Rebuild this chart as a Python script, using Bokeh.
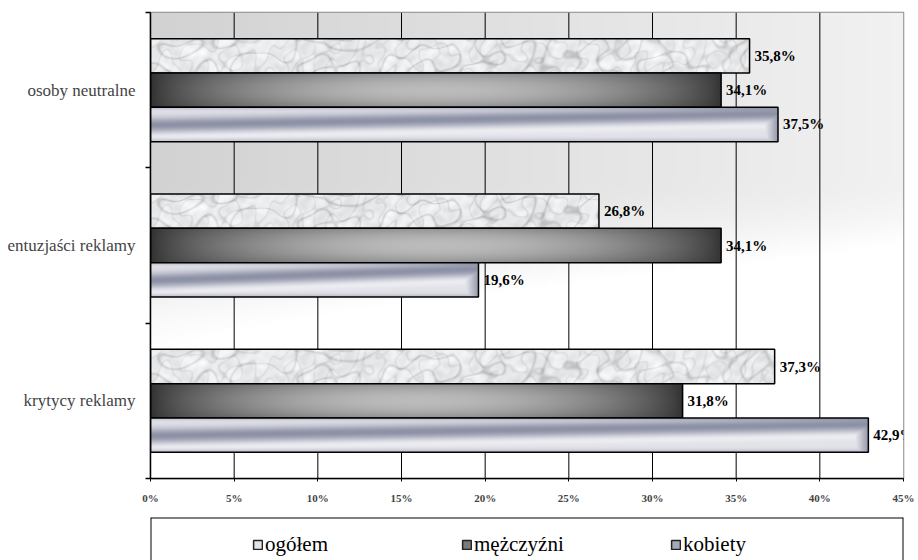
import numpy as np
from bokeh.plotting import figure
from bokeh.models import (ColumnDataSource, FixedTicker, LabelSet, Range1d, Span,
                          Legend, LegendItem)
from bokeh.layouts import column
from bokeh.transform import dodge
from bokeh.core.properties import value
from bokeh.embed import file_html
from bokeh.resources import INLINE

# ---------------- data ----------------
categories = ["krytycy reklamy", "entuzjaści reklamy", "osoby neutralne"]  # bottom -> top
series = ["ogółem", "mężczyźni", "kobiety"]
ogolem = [37.3, 26.8, 35.8]
mezczyzni = [31.8, 34.1, 34.1]
kobiety = [42.9, 19.6, 37.5]
x_ticks = [0, 5, 10, 15, 20, 25, 30, 35, 40, 45]
x_tick_labels = ["0%", "5%", "10%", "15%", "20%", "25%", "30%", "35%", "40%", "45%"]

# ---------------- layout constants ----------------
FIG_W, FIG_H = 918, 515
BL, BR, BT, BB = 150, 15, 12, 37
FRAME_W = FIG_W - BL - BR
FRAME_H = FIG_H - BT - BB
XMAX = 45
BAR_H = 0.221
PX_PER_UNIT = FRAME_W / XMAX
BAR_PX = int(round(BAR_H * FRAME_H / 3))
SERIF = "Liberation Serif"


def pack(r, g, b):
    img = np.empty(r.shape + (4,), dtype=np.uint8)
    img[..., 0] = np.clip(r, 0, 255)
    img[..., 1] = np.clip(g, 0, 255)
    img[..., 2] = np.clip(b, 0, 255)
    img[..., 3] = 255
    # rows: index 0 must be the bottom of the image
    return np.flipud(img).copy().view(np.uint32).reshape(r.shape)


def grid_xy(W, H):
    X, Y = np.meshgrid(np.arange(W, dtype=float), np.arange(H, dtype=float))
    return X, Y


def smooth_noise(X, Y):
    # deterministic pseudo-noise built from incommensurate waves
    dirs = [(0.061, 0.173, 0.0), (0.113, -0.097, 1.3), (0.029, 0.251, 2.1),
            (0.151, 0.061, 0.7), (-0.083, 0.139, 4.2), (0.047, -0.211, 5.1),
            (0.197, 0.113, 3.3), (0.017, 0.071, 0.4)]
    n = np.zeros_like(X)
    for k, (a, b, ph) in enumerate(dirs):
        n += np.sin(a * X + b * Y + ph + 0.9 * np.sin(0.037 * X * (k % 3 + 1) + ph))
    return n / len(dirs) * 2.2


def tex_marble(W, H):
    X, Y = grid_xy(W, H)
    n = smooth_noise(X, Y)
    n2 = smooth_noise(X * 1.7 + 31, Y * 1.3 + 7)
    n3 = smooth_noise(X * 3.1 + 11, Y * 2.7 + 3)
    vein = np.exp(-(n * 8.0) ** 2) * 0.6 + np.exp(-(n2 * 9.0) ** 2) * 0.4
    g = 236 - 52 * vein - 7 * n2 - 6 * n3
    return pack(g - 1, g, g + 1)


def tex_cylinder(W, H):
    X, Y = grid_xy(W, H)
    u = X / max(W - 1, 1)
    v = Y / max(H - 1, 1)
    hprof = np.sin(np.pi * u) ** 0.7
    w = 0.70 + 0.30 * np.sin(np.pi * v) ** 0.8
    g = 48 + 140 * hprof * w
    return pack(g, g, g)


def tex_metal(W, H):
    X, Y = grid_xy(W, H)
    u = X / max(W - 1, 1)
    v = Y / max(H - 1, 1)
    vd = 0.52 - 0.35 * u
    d = np.exp(-((v - vd) / 0.22) ** 2)
    l = np.exp(-((v - (vd + 0.34)) / 0.12) ** 2)
    edge = np.exp(-((v - 1.0) / 0.08) ** 2) + np.exp(-(v / 0.06) ** 2)
    t = 0.12 + 0.65 * d - 0.12 * l + 0.25 * edge
    e = np.clip((X - (W - 16)) / 16.0, 0, 1)
    t = np.maximum(t, 0.8 * e)
    t = np.clip(t, 0, 1)
    light = np.array([242, 242, 246])
    dark = np.array([112, 117, 142])
    r = light[0] * (1 - t) + dark[0] * t
    g = light[1] * (1 - t) + dark[1] * t
    b = light[2] * (1 - t) + dark[2] * t
    return pack(r, g, b)


def tex_background(W, H):
    X, Y = grid_xy(W, H)
    xf = X / (W - 1)
    yf = Y / (H - 1)  # 0 at top
    s = np.clip((yf - 0.35) / 0.4, 0, 1)
    s = s * s * (3 - 2 * s)
    t = np.clip(0.7 * xf + s, 0, 1)
    g = 210 + 45 * t
    return pack(g, g, g)


textures = {"ogółem": tex_marble, "mężczyźni": tex_cylinder, "kobiety": tex_metal}
values = {"ogółem": ogolem, "mężczyźni": mezczyzni, "kobiety": kobiety}
offsets = {"ogółem": BAR_H, "mężczyźni": 0.0, "kobiety": -BAR_H}

# ---------------- main figure ----------------
p = figure(width=FIG_W, height=FIG_H, x_range=Range1d(0, XMAX), y_range=Range1d(0, 3),
           output_backend="svg", toolbar_location=None,
           min_border_left=BL, min_border_right=BR, min_border_top=BT, min_border_bottom=BB)
p.grid.visible = False
p.outline_line_color = "#8a8a8a"
p.outline_line_width = 1.5
p.background_fill_color = "white"

p.image_rgba(image=[tex_background(240, 160)], x=0, y=0, dw=XMAX, dh=3)

grid_x = x_ticks[1:-1]
p.segment(x0=grid_x, x1=grid_x, y0=[0] * len(grid_x), y1=[3] * len(grid_x),
          line_color="black", line_width=1)

cat_y = [i + 0.5 for i in range(len(categories))]

for s in series:
    vals = values[s]
    imgs = [textures[s](max(int(round(v * PX_PER_UNIT)), 2), BAR_PX) for v in vals]
    src = ColumnDataSource(dict(
        cat_y=cat_y, value=vals, image=imgs,
        label=[f"{v:.1f}".replace(".", ",") + "%" for v in vals],
    ))
    off = offsets[s]
    p.image_rgba(image="image", x=0, y=dodge("cat_y", off - BAR_H / 2), dw="value",
                 dh=BAR_H, source=src)
    p.hbar(y=dodge("cat_y", off), left=0, right="value", height=BAR_H, source=src,
           fill_alpha=0, line_color="black", line_width=1.5)
    p.add_layout(LabelSet(x="value", y=dodge("cat_y", off), text="label", source=src,
                          x_offset=5, text_baseline="middle", text_align="left",
                          text_font=value(SERIF), text_font_style="bold",
                          text_font_size="15px", text_color="black"))

p.xaxis.ticker = FixedTicker(ticks=x_ticks, minor_ticks=[])
p.xaxis.major_label_overrides = {t: lab for t, lab in zip(x_ticks, x_tick_labels)}
p.xaxis.major_tick_out = 3
p.xaxis.major_tick_in = 0
p.xaxis.minor_tick_out = 0
p.xaxis.major_label_standoff = 10
p.xaxis.major_label_text_font = SERIF
p.xaxis.major_label_text_font_style = "bold"
p.xaxis.major_label_text_font_size = "11px"
p.xaxis.axis_line_width = 1.5
p.xaxis.axis_line_color = "black"
p.xaxis.major_tick_line_color = "black"

p.yaxis.ticker = FixedTicker(ticks=cat_y, minor_ticks=[0, 1, 2, 3])
p.yaxis.major_label_overrides = {y: c for y, c in zip(cat_y, categories)}
p.yaxis.major_tick_out = 0
p.yaxis.major_tick_in = 0
p.yaxis.minor_tick_out = 5
p.yaxis.minor_tick_in = 0
p.yaxis.minor_tick_line_color = "black"
p.yaxis.minor_tick_line_width = 1.5
p.yaxis.major_label_standoff = 10
p.yaxis.major_label_text_font = SERIF
p.yaxis.major_label_text_font_size = "17px"
p.yaxis.axis_line_width = 1.5
p.yaxis.axis_line_color = "black"

# ---------------- legend (separate strip with an open-bottom box) ----------------
p2 = figure(width=FIG_W, height=45, x_range=Range1d(0, 1), y_range=Range1d(0, 1),
            output_backend="svg", toolbar_location=None,
            x_axis_location=None, y_axis_location=None,
            min_border_left=115, min_border_right=15, min_border_top=2, min_border_bottom=0)
p2.outline_line_color = None
p2.grid.visible = False
for loc, dim in [(1, "width"), (0, "height"), (1, "height")]:
    p2.add_layout(Span(location=loc, dimension=dim, line_color="black", line_width=2))

legend_fill = {"ogółem": "#e4e4e4", "mężczyźni": "#7a7a7a", "kobiety": "#a6a9b8"}
items = []
for s in series:
    # off-screen dummy glyph used only for the legend swatch
    r = p2.quad(left=[-3], right=[-2], top=[-2], bottom=[-3], fill_color=legend_fill[s],
                line_color="#222222", line_width=1.5)
    items.append(LegendItem(label=s, renderers=[r]))

legend = Legend(items=items, orientation="horizontal", location=(102, 3),
                glyph_width=11, glyph_height=11, label_standoff=2, label_width=196,
                spacing=0, padding=0, margin=0, border_line_color=None,
                background_fill_alpha=0, label_text_font=SERIF,
                label_text_font_size="21px", label_text_color="black")
p2.add_layout(legend)

layout = column(p, p2, spacing=0)
open("out.html", "w").write(file_html(layout, INLINE))
